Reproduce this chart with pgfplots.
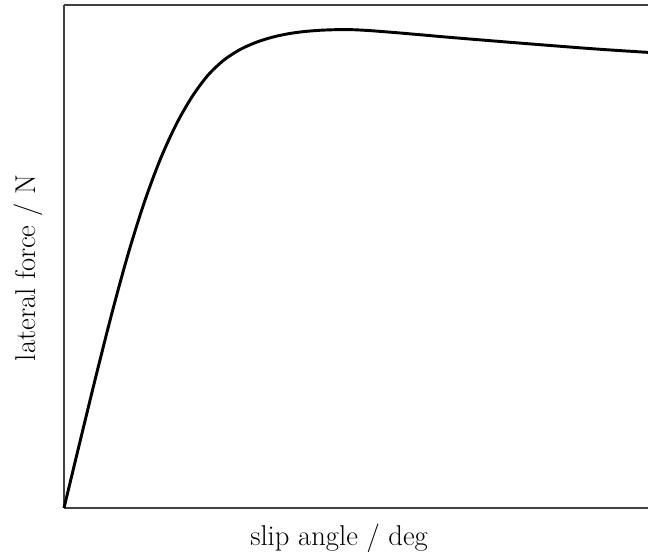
\documentclass[border=0pt]{standalone}
\usepackage{pgfplots}
\pgfplotsset{compat=1.18}
\begin{document}
\begin{tikzpicture}
\useasboundingbox (0,0) rectangle (486pt,419.25pt);
\begin{axis}[
  at={(48pt,38.25pt)}, anchor=south west,
  scale only axis, width=438pt, height=377.25pt,
  xmin=0, xmax=584, ymin=0, ymax=503,
  axis x line=box, axis y line=left,
  y axis line style={-},
  axis line style={black!75, line width=1pt},
  xtick=\empty, ytick=\empty,
  clip=false,
  label style={font=\fontsize{21.5}{26}\selectfont},
  xlabel={slip angle / deg},
  ylabel={lateral force / N},
  xlabel style={at={(axis description cs:0.471,-0.0596)}, anchor=center},
  ylabel style={at={(axis description cs:-0.0616,0.477)}, anchor=center, rotate=0},
]
\addplot[black, line width=2.2pt, smooth, line join=round] coordinates {
(0,0) (16,66.4) (32,132.0) (48,195.2) (64,253.6) (80,304.8) (96,348.0)
(112,383.2) (128,411.2) (144,432.8) (160,448.0) (176,458.4) (192,465.6)
(208,470.7) (224,474.2) (240,476.4) (256,477.7) (272,478.3) (288,478.3)
(304,477.5) (320,476.3) (336,475.0) (360,472.9) (386,470.6) (436,466.5)
(486,462.5) (536,458.7) (584,455.6)
};
\end{axis}
\end{tikzpicture}
\end{document}
